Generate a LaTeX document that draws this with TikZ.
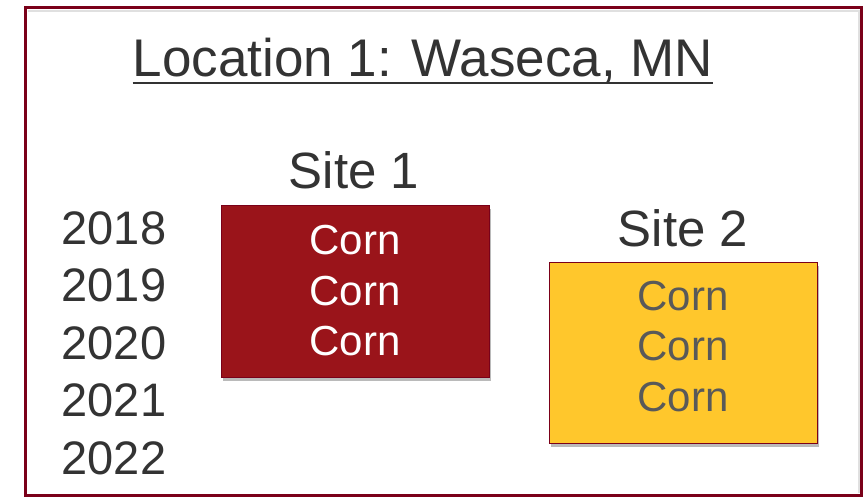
\documentclass[tikz,border=0pt]{standalone}
\usepackage{fontspec}
\setmainfont{Liberation Sans}
\usetikzlibrary{shadows}
\definecolor{umnmaroon}{HTML}{7A0019}
\definecolor{siteonered}{HTML}{9A141A}
\definecolor{umngold}{HTML}{FFC72C}
\definecolor{darktext}{HTML}{333333}
\definecolor{corngray}{HTML}{595959}
\tikzset{
  frame/.style={draw=umnmaroon, line width=3pt},
  sitebox/.style={draw=umnmaroon, line width=1pt, minimum width=268pt, inner sep=0pt,
    drop shadow={opacity=0.45, fill=black!60, shadow xshift=2pt, shadow yshift=-4pt}},
  corntext/.style={font={\fontsize{42}{50.5}\selectfont}, align=center, inner sep=0pt},
  yeartext/.style={font={\fontsize{47}{57.5}\selectfont}, align=center, inner sep=0pt, text=darktext},
  sitelabel/.style={font={\fontsize{51}{60}\selectfont}, inner sep=0pt, text=darktext, anchor=base},
  titletext/.style={font={\fontsize{53}{64}\selectfont}, inner sep=0pt, text=darktext, anchor=base}
}
\begin{document}
\begin{tikzpicture}[x=1pt,y=-1pt]
\useasboundingbox (0,0) rectangle (867,496);
\fill[white] (0,0) rectangle (867,496);
% frame
\draw[frame] (25.5,7.5) rectangle (861.5,495.5);
\draw[black!12, line width=2pt] (28,11) -- (859,11) -- (859,493);
% title
\node[titletext] (title) at (423,76) {Location 1: Waseca, MN};
\draw[darktext, line width=2.4pt] ([yshift=-6.7pt]title.base west) -- ([yshift=-6.7pt]title.base east);
% years
\node[yeartext] (years) at (114,343) {2018\\2019\\2020\\2021\\2022};
% site 1
\node[sitelabel] (s1label) at (354,188) {Site 1};
\node[sitebox, fill=siteonered, minimum height=172pt] (s1) at (355,291) {};
\node[corntext, text=white] (c1) at (355,291) {Corn\\Corn\\Corn};
% site 2
\node[sitelabel] (s2label) at (683,246) {Site 2};
\node[sitebox, fill=umngold, minimum height=181pt] (s2) at (683,352.5) {};
\node[corntext, text=corngray] (c2) at (683,346.5) {Corn\\Corn\\Corn};
\end{tikzpicture}
\end{document}
